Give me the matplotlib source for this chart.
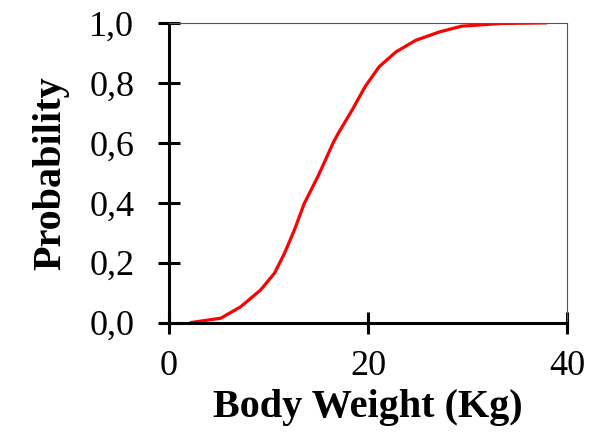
import matplotlib
matplotlib.use('Agg')
import matplotlib.pyplot as plt
from matplotlib.ticker import FuncFormatter

# body weight (kg) and cumulative probability
weight = [2.1, 5.2, 7.2, 9.2, 10.6, 11.6, 12.6, 13.6, 15.0, 16.5, 17.0,
          18.4, 19.7, 21.1, 22.8, 24.8, 27.2, 29.4, 33.4, 38.0]
prob = [0.0, 0.015, 0.053, 0.109, 0.165, 0.231, 0.309, 0.398, 0.49, 0.60, 0.631,
        0.709, 0.787, 0.853, 0.903, 0.942, 0.970, 0.989, 0.998, 1.0]

xticks = [0, 20, 40]
yticks = [0.0, 0.2, 0.4, 0.6, 0.8, 1.0]

plt.rcParams['font.family'] = ['Liberation Serif', 'DejaVu Serif']

fig = plt.figure(figsize=(5.95, 4.4), dpi=100)
ax = fig.add_axes([0.284, 0.2666, 0.669, 0.6814])

ax.plot(weight, prob, color='red', lw=2.3, solid_capstyle='butt', solid_joinstyle='round')

ax.set_xlim(0, 40)
ax.set_ylim(0, 1)
ax.set_xticks(xticks)
ax.set_yticks(yticks)
ax.yaxis.set_major_formatter(FuncFormatter(lambda v, p: ('%.1f' % v).replace('.', ',')))

ax.tick_params(direction='inout', length=16, width=2.2, labelsize=26)
ax.tick_params(axis='y', pad=17)
ax.tick_params(axis='x', pad=12)
for s in ['left', 'bottom']:
    ax.spines[s].set_linewidth(2.2)
for s in ['top', 'right']:
    ax.spines[s].set_linewidth(0.8)
    ax.spines[s].set_color('#555555')

ax.set_xlabel('Body Weight (Kg)', fontsize=29, fontweight='bold', labelpad=4)
ax.set_ylabel('Probability', fontsize=29, fontweight='bold', labelpad=14)

fig.savefig('out.png', dpi=100)
